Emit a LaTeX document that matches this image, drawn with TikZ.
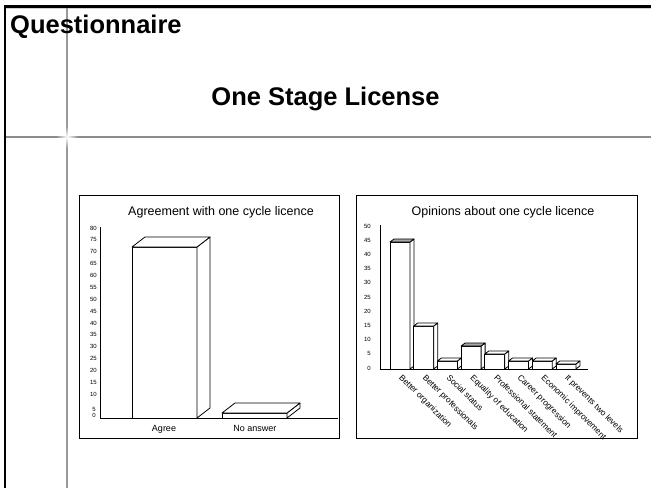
\documentclass[tikz,border=0pt]{standalone}
\usepackage{fontspec}
\setmainfont{Liberation Sans}
\usetikzlibrary{fadings}
\tikzfading[name=glarefade, inner color=transparent!0, outer color=transparent!100]
\newcommand\cbar[7]{% x1, x2, top, base, dx, dy, topfill
  \filldraw[barline] (#1,#4) rectangle (#2,#3);
  \filldraw[barline] (#2,#4) -- (#2+#5,#4-#6) -- (#2+#5,#3-#6) -- (#2,#3) -- cycle;
  \filldraw[barline,fill=#7] (#1,#3) -- (#1+#5,#3-#6) -- (#2+#5,#3-#6) -- (#2,#3) -- cycle;}
\begin{document}
\begin{tikzpicture}[x=1pt,y=-1pt,
  frameline/.style={line width=2.4pt,black},
  guide/.style={line width=1.6pt,gray!90},
  chartbox/.style={draw=black,line width=1pt},
  axisline/.style={black,line width=0.9pt},
  barline/.style={draw=black,line width=0.8pt,fill=white,line join=round},
  ticklab/.style={font=\fontsize{6}{6}\selectfont,anchor=east,inner sep=0pt},
  catlab/.style={font=\fontsize{9}{9}\selectfont,inner sep=0pt,anchor=base},
  rotlab/.style={font=\fontsize{8.4}{8.4}\selectfont,inner sep=0pt,anchor=north west,rotate=-45},
  ctitle/.style={font=\fontsize{12.5}{13}\selectfont,inner sep=0pt},
  bigtitle/.style={font=\fontsize{25.5}{30}\selectfont\bfseries,inner sep=0pt}
]
\useasboundingbox (0,0) rectangle (651,488);
\fill[white] (0,0) rectangle (651,488);
% slide frame
\draw[gray!35,line width=1pt] (5,8.5) -- (651,8.5);
\draw[guide,line width=1.3pt,gray!80] (67,5) -- (67,488);
\draw[guide] (5,137) -- (651,137);
\fill[white,path fading=glarefade] (67,137) circle (11);
\draw[frameline] (5,6.5) -- (651,6.5);
\draw[frameline] (5,5.3) -- (5,488);
\node[bigtitle,anchor=base west] (q) at (10,33) {Questionnaire};
\node[bigtitle,anchor=base] (title) at (325.5,105) {One Stage License};

% left chart
\draw[chartbox] (79,195) rectangle (339,438);
\node[ctitle] (lt) at (221,212) {Agreement with one cycle licence};
\draw[axisline] (100,227) -- (100,418) -- (338,418);
\foreach \v in {10,15,...,80} \node[ticklab] (lt\v) at (97,418-2.375*\v) {\v};
\node[ticklab] (lt5) at (96,409.5) {5};
\node[ticklab] (lt0) at (96,415) {0};
\cbar{132}{197}{247}{418}{13}{10}{white}
\cbar{222}{287}{413}{418}{13}{10}{white}
\node[catlab] (agree) at (164,431) {Agree};
\node[catlab] (noans) at (255,431) {No answer};

% right chart
\draw[chartbox] (356,195) rectangle (637,438);
\node[ctitle] (rt) at (503,212) {Opinions about one cycle licence};
\draw[axisline] (380,225) -- (380,369) -- (588,369);
\foreach \v in {0,5,...,50} \node[ticklab] (rt\v) at (371,368-2.84*\v) {\v};
\foreach \i/\t/\f/\lab in {0/242/gray!70/Better organization,
  1/326/white/Better professionals,
  2/361/white/Social status,
  3/346/gray!70/Equality of education,
  4/354/white/Professional statement,
  5/361/white/Career progression,
  6/361/white/Economic improvement,
  7/364/white/It prevents two levels}{
  \pgfmathsetmacro\xa{390+23.7*\i}
  \pgfmathsetmacro\xb{\xa+20}
  \cbar{\xa}{\xb}{\t}{369}{4}{3}{\f}
  \node[rotlab] (cat\i) at (\xa+13,373.5) {\lab};
}
\end{tikzpicture}
\end{document}
